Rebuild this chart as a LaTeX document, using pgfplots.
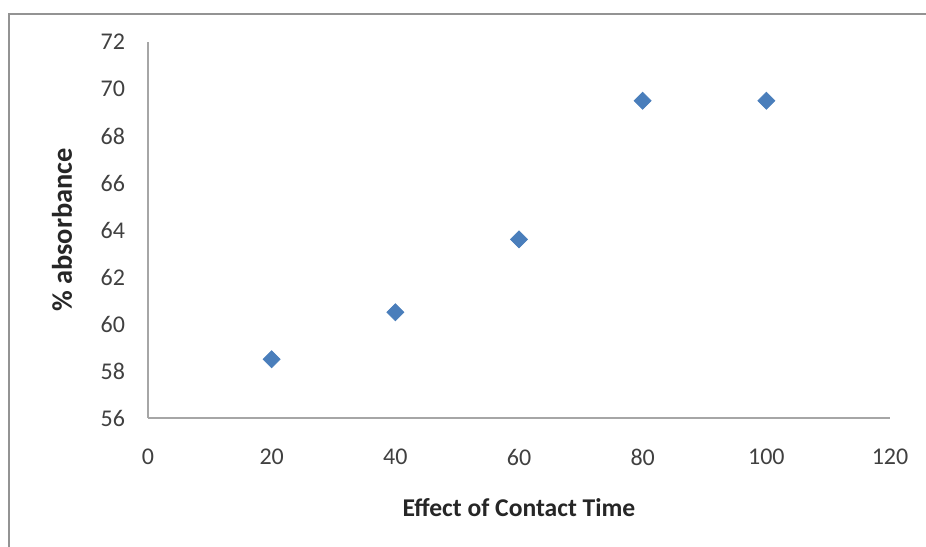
\documentclass[border=0pt]{standalone}
\usepackage{fontspec}
\setmainfont{Carlito}
\usepackage{pgfplots}
\pgfplotsset{compat=1.18}
\definecolor{excelblue}{HTML}{4A7EBB}
\definecolor{axgray}{HTML}{A6A6A6}
\definecolor{ticktxt}{HTML}{404040}
\begin{document}
\begin{tikzpicture}[x=1pt,y=1pt]
\begin{axis}[
  at={(0,0)}, anchor=origin,
  scale only axis,
  width=371pt, height=188pt,
  xmin=0, xmax=120, ymin=56, ymax=72,
  xtick={0,20,...,120}, ytick={56,58,...,72},
  axis x line*=bottom, axis y line*=left,
  axis line style={axgray, line width=0.9pt, -},
  major tick length=0pt,
  /pgf/number format/assume math mode=true,
  tick label style={font=\fontsize{12}{13}\selectfont, text=ticktxt},
  xticklabel style={yshift=-12pt},
  yticklabel style={xshift=-8pt},
  xlabel={\textbf{Effect of Contact Time}},
  ylabel={\textbf{\% absorbance}},
  xlabel style={font=\fontsize{12.8}{13}\selectfont, text=black!85, at={(axis description cs:0.5,0)}, anchor=center, yshift=-45pt},
  ylabel style={font=\fontsize{14.2}{15}\selectfont, text=black!85, at={(axis description cs:0,0.5)}, anchor=center, yshift=43pt},
  clip=false,
]
\addplot[only marks, mark=square*, mark size=3pt, mark options={rotate=45, fill=excelblue, draw=excelblue}]
  coordinates {(20,58.5) (40,60.5) (60,63.6) (80,69.5) (100,69.5)};
\end{axis}
\useasboundingbox (-74,-64) rectangle (389,209);
\draw[color=gray!85, line width=1pt] (-69.5,-70) -- (-69.5,202) -- (395,202);
\end{tikzpicture}
\end{document}
